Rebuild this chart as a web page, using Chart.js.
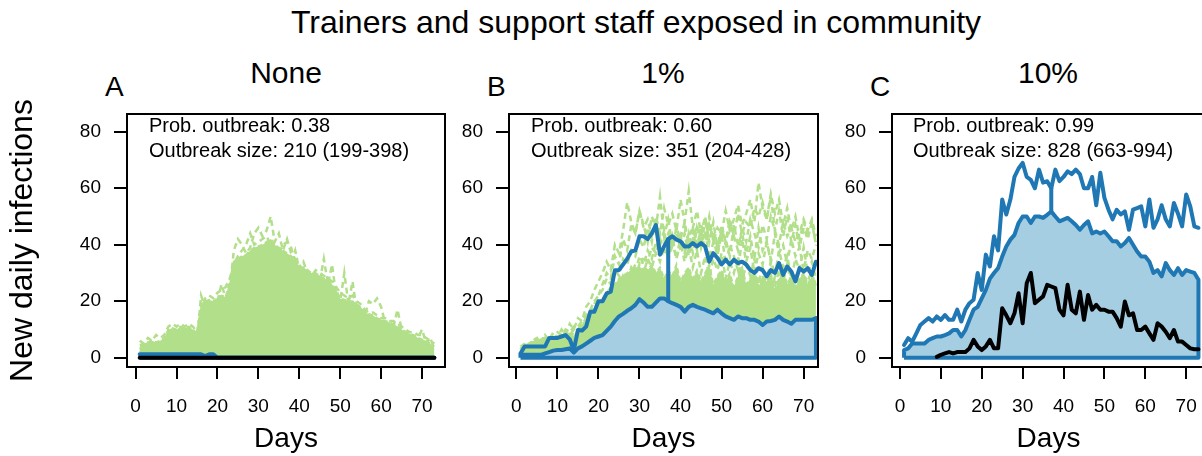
<!DOCTYPE html>
<html lang="en">
<head>
    <meta charset="UTF-8">
    <title>Trainers and support staff exposed in community</title>
    <script src="https://cdn.jsdelivr.net/npm/chart.js"></script>
    <style>
        body {
            margin: 0;
            width: 1202px;
            height: 456px;
            overflow: hidden;
            position: relative;
            background: #fff;
            font-family: "Liberation Sans", Arial, sans-serif;
            color: #000;
        }
        canvas { position: absolute; top: 100px; }
        .txt { position: absolute; white-space: nowrap; line-height: 1; }
        .main { left: 236px; width: 800px; top: 6px; font-size: 32px; text-align: center; }
        .ptitle { width: 200px; top: 58px; font-size: 30px; text-align: center; }
        .letter { top: 73px; font-size: 28px; }
        .note { top: 113px; font-size: 20px; line-height: 25px; }
    </style>
</head>
<body>
    <div class="txt main">Trainers and support staff exposed in community</div>

    <div class="txt letter" style="left:105px">A</div>
    <div class="txt letter" style="left:487px">B</div>
    <div class="txt letter" style="left:870px">C</div>

    <div class="txt ptitle" style="left:186px">None</div>
    <div class="txt ptitle" style="left:563px">1%</div>
    <div class="txt ptitle" style="left:948px">10%</div>

    <canvas id="chartA" width="460" height="356" style="left:0px"></canvas>
    <canvas id="chartB" width="375" height="356" style="left:455px"></canvas>
    <canvas id="chartC" width="372" height="356" style="left:838px"></canvas>

    <div class="txt note" style="left:149px">Prob. outbreak: 0.38<br>Outbreak size: 210 (199-398)</div>
    <div class="txt note" style="left:531px">Prob. outbreak: 0.60<br>Outbreak size: 351 (204-428)</div>
    <div class="txt note" style="left:913px">Prob. outbreak: 0.99<br>Outbreak size: 828 (663-994)</div>

    <script>
// axes
const dayTicks = [0, 10, 20, 30, 40, 50, 60, 70];
const yTicks = [0, 20, 40, 60, 80];
const days = [1,2,3,4,5,6,7,8,9,10,11,12,13,14,15,16,17,18,19,20,21,22,23,24,25,26,27,28,29,30,
    31,32,33,34,35,36,37,38,39,40,41,42,43,44,45,46,47,48,49,50,51,52,53,54,55,56,57,58,59,60,
    61,62,63,64,65,66,67,68,69,70,71,72,73];

// panel A - none
const greenDenseA = [4.5,5,5.5,6,5.5,6,7,10,10.5,10, 11,10.5,11,10,8.5,19,20,20.5,20,21,
    22,21.5,27,34,35,36,36.5,38,39,39.5, 40,41,42,40,39,38,37,36,34,32,
    32,31,30,30,29,28,27.5,26,24,21, 20.5,20,20,19,18,16,15.5,15,14,13.5,
    13,12.5,12,11,10,9,8.5,8,7,6.5, 6,5,4];
const greenRunsA = [
    [3,4,4,5,4,5,6,8,9,8, 9,10,9,8,7,15,17,18,17,19, 20,20,24,38,42,40,37,39,44,46,
     43,45,50,41,44,38,42,37,35,33, 30,31,29,28,27,26,25,24,23,20, 19,18,18,17,16,15,14,13,13,12,
     11,11,10,9,9,8,7,7,6,6, 5,4,3],
    [2,3,3,4,3,4,5,7,8,7, 8,9,8,9,6,22,18,19,18,20, 26,21,25,30,32,33,34,35,36,37,
     38,37,39,36,37,35,36,34,38,31, 30,29,28,29,27,35,26,33,22,20, 30,19,27,17,16,15,20,19,21,18,
     12,12,11,17,10,9,8,7,7,10, 5,7,3],
    [6,5,7,6,8,7,8,11,12,11, 12,11,12,11,9,17,21,22,21,23, 24,25,28,33,36,38,40,44,40,41,
     42,43,40,38,37,40,41,39,33,32, 34,30,29,31,30,29,28,27,25,23, 22,21,22,20,19,17,16,16,15,14,
     14,13,13,12,11,10,9,9,8,8, 7,6,5]
];
const lowerA = [0,0,0,0,0,0,0,0,0,0, 0,0,0,0,0,0,0,0,0,0, 0,0,0,0,0,0,0,0,0,0,
    0,0,0,0,0,0,0,0,0,0, 0,0,0,0,0,0,0,0,0,0, 0,0,0,0,0,0,0,0,0,0, 0,0,0,0,0,0,0,0,0,0, 0,0,0];
const upperA = [1.2,1.2,1.2,1.2,1.2,1.2,1.2,1.2,1.2,1.2, 1.2,1.2,1.2,1.2,1.2,1.2,0.6,1.2,1.2,0,
    0,0,0,0,0,0,0,0,0,0, 0,0,0,0,0,0,0,0,0,0, 0,0,0,0,0,0,0,0,0,0,
    0,0,0,0,0,0,0,0,0,0, 0,0,0,0,0,0,0,0,0,0, 0,0,0];
const blackA = [0,0,0,0,0,0,0,0,0,0, 0,0,0,0,0,0,0,0,0,0, 0,0,0,0,0,0,0,0,0,0,
    0,0,0,0,0,0,0,0,0,0, 0,0,0,0,0,0,0,0,0,0, 0,0,0,0,0,0,0,0,0,0, 0,0,0,0,0,0,0,0,0,0, 0,0,0];

// panel B - 1%
const greenDenseB = [4,5,5,6,6,7,7,6,7,7, 8,8,9,7,10,12,13,15,17,19, 21,23,25,26,28,29,30,31,32,31,
    32,31,33,30,32,28,31,29,33,27, 30,32,28,31,27,30,33,26,29,31, 27,30,25,29,32,26,28,31,25,29,
    27,30,24,28,31,26,29,25,28,30, 26,29,27];
const greenRunsB = [
    [3,5,4,6,7,5,8,6,9,7, 10,8,12,10,14,13,18,20,24,27, 30,34,31,40,37,45,55,48,44,52,
     47,41,50,46,57,43,49,40,46,38, 44,36,42,47,39,45,35,41,37,44, 33,40,36,31,42,34,39,30,37,33,
     41,35,29,38,32,36,28,35,31,39, 30,34,28],
    [2,3,4,3,5,4,6,5,7,6, 8,9,8,10,11,13,15,17,20,22, 24,28,26,31,29,35,33,38,36,42,
     39,46,41,50,44,53,47,51,45,56, 48,59,46,52,44,50,41,48,39,45, 42,36,47,40,44,37,43,35,46,38,
     41,34,44,37,40,33,42,36,39,31, 38,35,40],
    [1,2,3,2,4,3,5,4,6,5, 7,6,8,7,9,10,12,14,13,18, 17,22,20,25,24,29,27,32,30,36,
     33,38,35,41,37,40,44,39,46,42, 48,40,45,38,47,43,50,41,46,44, 52,45,49,54,47,51,56,48,62,53,
     49,57,45,52,43,50,41,47,39,46, 42,48,40],
    [2,3,2,4,3,5,4,6,5,7, 6,8,7,9,8,10,12,13,15,17, 19,21,23,25,24,28,27,31,29,33,
     30,35,32,37,34,39,36,41,35,43, 38,44,37,46,40,48,42,45,39,47, 41,49,43,51,44,48,46,53,50,55,
     49,58,51,56,47,53,45,50,42,48, 44,47,41],
    [1,2,1,3,2,4,3,5,4,6, 5,7,6,8,7,9,11,12,14,16, 18,21,19,24,23,27,26,30,33,31,
     36,34,39,37,42,38,35,40,44,41, 37,43,46,40,45,38,47,42,36,44, 40,48,43,38,46,41,49,44,39,47,
     42,50,45,40,48,43,46,41,44,49, 45,49,43],
    [3,4,5,4,6,5,7,8,7,9, 8,10,9,11,10,12,14,16,19,22, 26,30,28,36,33,42,38,47,44,52,
     46,49,43,48,40,45,37,43,35,41, 34,39,32,38,30,36,29,35,31,37, 28,34,30,36,27,33,29,35,26,32,
     28,34,25,31,27,33,26,30,24,29, 27,31,25]
];
const lowerB = [1,1,1,1,1,1,1.5,2,2.5,2.7, 2.7,3,3.3,1.8,3.3,4,5,6,7,7.5,
    8,9.5,11,13,14.6,15.5,16.6,17.5,18.7,20.7, 19.5,18,18,19.5,21,21,20,19.3,18.7,18,
    16.3,18,18.7,18,17.5,17,16.3,15.7,17,15.7, 14.6,14,13.4,14.6,14,14,13.4,13.4,12.8,11.6,
    12.8,13,13.4,14.6,13.4,12.8,12,13.4,13.4,13.4, 13.4,13.4,14];
const upperB = [1.5,4,4,4,4,4,4,7,7,7, 7.5,8,6.5,2.7,9.8,9.6,11,16.3,16.3,20,
    20,22.8,23.4,31,31,33,35,37.6,38,43, 43,42,44,47,36.5,39.4,42,43,41.8,41.2,
    39.4,39.4,40.6,39.4,40.6,39.4,34,37,35.3,33, 34.7,33,34.7,33.5,34,33,31,30,31.7,31,
    28.8,31,30,33.5,29.3,32.3,30.5,27,31.7,30.5, 31.7,29.3,34];
const dropDayB = 37;

// panel C - 10%
const lowerC = [2.7,3.3,5,5,5,5,6.3,6.9,7.5,7.5, 8,8.6,9.8,9.8,7.5,9.8,13.4,17,18,21,
    24,28,30,31.7,35.8,39.4,41.8,43.5,47.7,50, 50,47.7,50,50,49.5,50.6,51.8,50,48.3,48.9,
    49.5,48.3,47,45.3,47,48.3,44,44.7,44,44.7, 43,41.2,41.2,39.4,40.6,42.4,40,37.6,35.8,35.8,
    34,30,31,28.8,33.5,31,29.3,31.7,29.3,31, 30.5,30,27.6];
const upperC = [4.5,6.9,5.7,8.6,11.6,12.8,14,12.8,14.6,13.4, 15.1,13.4,13.4,17,12.8,17,19.3,20.5,30,24,
    36.5,32.3,43,38,56,50.7,56,64,67,69, 64,63,60,66.6,62,62.5,60,66.6,62.5,64,
    66,65,66.6,65,60,60,64,54,65.5,56.6, 52.4,49,52.4,50.7,51.8,45.3,52.4,53,53.6,46.5,
    56,46,49,54,49,46.5,54.8,51,46.5,57.8, 53.6,46.5,46];
const blackC = [null,null,null,null,null,null,null,null,0.3,1, 1.5,2,1.5,2,2,2,3.3,6.3,4,2.7,
    4,6.3,3.3,3.3,17.5,15,12.2,15.7,22.8,12.2, 26.4,30,19.3,20.5,21.7,25.8,25.2,24.6,17,15,
    25.8,17,15.7,23.4,13.4,22.2,17,18.7,17,17, 16.3,16.3,14,11,19.9,15,15.7,9.8,9.8,11,
    8.6,6.3,12.2,11,9.2,6.9,9.8,5.7,5.7,4.5, 3.3,3,3];
const dropDayC = 37;

const GREEN = '#b2df8a';
const BLUE = '#1f78b4';
const BLUE_FILL = '#a6cee3';

Chart.defaults.font.family = '"Liberation Sans", Arial, sans-serif';
Chart.defaults.color = '#000';

function pts(vals) {
    return vals.map((v, i) => ({ x: days[i], y: v }));
}

// closed polygon of the interval, filled
function polygon(vals) {
    const first = days[0], last = days[days.length - 1];
    return [{ x: first, y: 0 }].concat(pts(vals), [{ x: last, y: 0 }, { x: first, y: 0 }]);
}

function solid(data, color, order) {
    return { data: data, borderColor: color, borderWidth: 4, fill: false, order: order,
             borderCapStyle: 'round', borderJoinStyle: 'round' };
}

function greenSets(dense, runs) {
    const sets = [{ data: pts(dense), borderColor: GREEN, backgroundColor: GREEN, borderWidth: 2,
                    borderDash: [5, 3], fill: 'origin', order: 5 }];
    runs.forEach(r => sets.push({ data: pts(r), borderColor: GREEN, borderWidth: 2.5,
                                   borderDash: [6, 4], fill: false, order: 4 }));
    return sets;
}

function bandSets(lower, upper, dropDay) {
    const sets = [
        { data: polygon(lower), borderColor: BLUE, backgroundColor: BLUE_FILL, borderWidth: 4,
          fill: 'shape', order: 3, borderJoinStyle: 'round' },
        solid(pts(upper), BLUE, 2)
    ];
    if (dropDay) {
        const i = days.indexOf(dropDay);
        sets.push(solid([{ x: dropDay, y: lower[i] }, { x: dropDay, y: upper[i] }], BLUE, 2));
    }
    return sets;
}

// box round the plot region
const boxPlugin = {
    id: 'box',
    afterDraw(chart) {
        const { ctx, chartArea: a } = chart;
        ctx.save();
        ctx.strokeStyle = '#000';
        ctx.lineWidth = 2;
        ctx.strokeRect(a.left, a.top, a.right - a.left, a.bottom - a.top);
        ctx.restore();
    }
};

function panel(id, cfg) {
    new Chart(document.getElementById(id), {
        type: 'line',
        data: { datasets: cfg.datasets },
        options: {
            responsive: false,
            animation: false,
            events: [],
            layout: { padding: { left: 0, right: cfg.padRight, top: 14, bottom: 0 } },
            plugins: { legend: { display: false }, tooltip: { enabled: false } },
            elements: { point: { radius: 0 }, line: { tension: 0 } },
            scales: {
                x: {
                    type: 'linear', min: cfg.xMin, max: cfg.xMax,
                    afterBuildTicks: s => { s.ticks = dayTicks.map(v => ({ value: v })); },
                    afterFit: s => { s.height = 89; s.paddingLeft = 0; s.paddingRight = 0; },
                    grid: { drawOnChartArea: false, drawTicks: true, tickLength: 12, color: '#000', lineWidth: 2 },
                    border: { display: false },
                    ticks: { font: { size: 19 }, padding: 16, maxRotation: 0, autoSkip: false },
                    title: { display: true, text: 'Days', font: { size: 28 }, padding: { top: 0, bottom: 0 } }
                },
                y: {
                    type: 'linear', min: -3.3, max: 86.3,
                    afterBuildTicks: s => { s.ticks = yTicks.map(v => ({ value: v })); },
                    afterFit: s => { s.width = cfg.yWidth; s.paddingTop = 0; s.paddingBottom = 0; },
                    grid: { drawOnChartArea: false, drawTicks: true, tickLength: 13, color: '#000', lineWidth: 2 },
                    border: { display: false },
                    ticks: { font: { size: 19 }, padding: 13, autoSkip: false },
                    title: cfg.yTitle ? { display: true, text: 'New daily infections', font: { size: 32 },
                                          padding: { top: 4, bottom: 0 } } : { display: false }
                }
            }
        },
        plugins: [boxPlugin]
    });
}

panel('chartA', {
    xMin: -2.1, xMax: 75.6, yWidth: 127, padRight: 15, yTitle: true,
    datasets: greenSets(greenDenseA, greenRunsA)
        .concat(bandSets(lowerA, upperA, null))
        .concat([solid(pts(blackA), '#000', 0)])
});

panel('chartB', {
    xMin: -1.8, xMax: 73.5, yWidth: 54, padRight: 12,
    datasets: greenSets(greenDenseB, greenRunsB).concat(bandSets(lowerB, upperB, dropDayB))
});

panel('chartC', {
    xMin: -1.95, xMax: 74.6, yWidth: 54, padRight: 5,
    datasets: bandSets(lowerC, upperC, dropDayC).concat([solid(pts(blackC), '#000', 0)])
});
    </script>
</body>
</html>
